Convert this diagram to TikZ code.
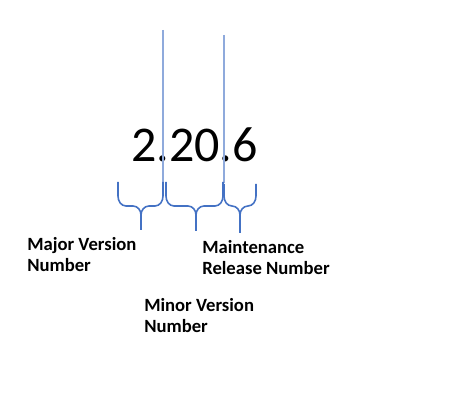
\documentclass[tikz,border=0pt]{standalone}
\usepackage{fontspec}
\setmainfont{Carlito}
\usetikzlibrary{positioning}

\definecolor{guideblue}{HTML}{8FAADC}
\definecolor{braceblue}{HTML}{4472C4}

% brace opening downwards: left x, right x, tip x, top y, middle y, tip y
\newcommand{\versionbrace}[6]{%
  \draw[brace] (#1,#4) -- (#1,#5-10) to[out=-90,in=180] (#1+8,#5)
    -- (#3-8,#5) to[out=0,in=90] (#3,#5+9) -- (#3,#6);
  \draw[brace] (#2,#4) -- (#2,#5-10) to[out=-90,in=0] (#2-8,#5)
    -- (#3+8,#5) to[out=180,in=90] (#3,#5+9) -- (#3,#6);
}

\begin{document}
\begin{tikzpicture}[
    x=0.75pt, y=-0.75pt,
    version/.style={font=\fontsize{37.5}{40}\selectfont, inner sep=0pt, anchor=base west},
    label/.style={font=\bfseries\fontsize{14}{15.75}\selectfont, align=left, inner sep=0pt, anchor=base west},
    guide/.style={draw=guideblue, line width=0.8pt},
    brace/.style={draw=braceblue, line width=1.2pt, line join=round}
]
\useasboundingbox (0,0) rectangle (472,402);

\node[version] (ver) at (131,162) {2.20.6};

% guide lines through the dots
\coordinate (gtop1) at (163,30);
\coordinate (gbot1) at (163,183);
\coordinate (gtop2) at (224,35);
\coordinate (gbot2) at (224,183);
\draw[guide] (gtop1) -- (gbot1);
\draw[guide] (gtop2) -- (gbot2);

% braces under each part
\versionbrace{118}{163}{141}{182}{206}{230}
\versionbrace{166}{223}{196}{182}{206}{231}
\versionbrace{224}{256}{240}{184}{206}{233}

% labels (anchored on the baseline of the last line)
\node[label] (major) at (27,272) {Major Version\\Number};
\node[label] (maint) at (202,275) {Maintenance\\Release Number};
\node[label] (minor) at (144,333) {Minor Version\\Number};
\end{tikzpicture}
\end{document}
